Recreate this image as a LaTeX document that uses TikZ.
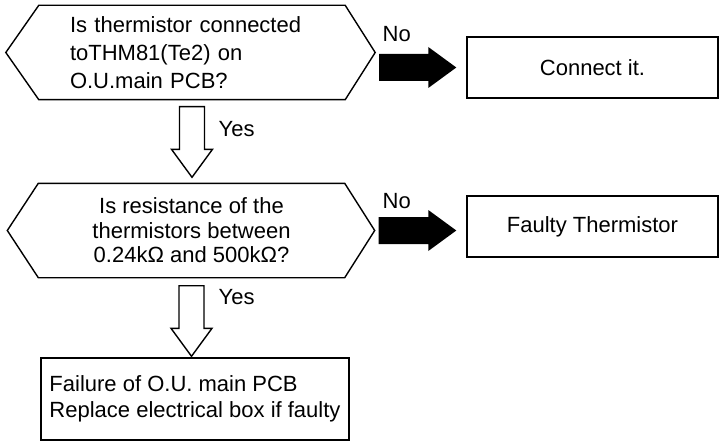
\documentclass[tikz,border=0pt]{standalone}
\usepackage{fontspec}
\setmainfont{Liberation Sans}
\usetikzlibrary{calc}

\begin{document}
\begin{tikzpicture}[x=1pt,y=-1pt,line width=1.4pt,
  box/.style={draw, minimum width=251pt, minimum height=61pt, font=\fontsize{22}{26}\selectfont},
  hexa/.style={minimum width=305pt, minimum height=93pt, inner sep=0pt},
  lbl/.style={anchor=base west, inner sep=0pt, font=\fontsize{22}{26}\selectfont},
  fat/.style={fill=black, to path={let \p1=(\tikztostart), \p2=(\tikztotarget) in
    (\x1+4pt,\y1+13.5pt) -- (\x2-38pt,\y1+13.5pt) -- (\x2-38pt,\y1+20.5pt) -- (\x2-10pt,\y1)
    -- (\x2-38pt,\y1-20.5pt) -- (\x2-38pt,\y1-13.5pt) -- (\x1+4pt,\y1-13.5pt) -- cycle}},
  hollow/.style={fill=white, line join=miter, to path={let \p1=(\tikztostart), \p2=(\tikztotarget) in
    (\x1-12.5pt,\y1) -- (\x1-12.5pt,\y2+28pt) -- (\x1-20.5pt,\y2+28pt) -- (\x1,\y2)
    -- (\x1+20.5pt,\y2+28pt) -- (\x1+12.5pt,\y2+28pt) -- (\x1+12.5pt,\y1) -- cycle}}]

\useasboundingbox (0,0) rectangle (725,441);

\node[hexa, text width=244pt, align=left, font=\fontsize{22}{28.3}\selectfont] (Q1) at (192,52.5)
  {Is thermistor connected\\toTHM81(Te2) on\\O.U.main PCB?};
\draw (Q1.north west) -- (Q1.north east) -- ([xshift=30pt]Q1.east) coordinate (Q1tip)
  -- (Q1.south east) -- (Q1.south west) -- ([xshift=-33pt]Q1.west) -- cycle;

\node[hexa, align=center, font=\fontsize{22}{24.5}\selectfont] (Q2) at (191.5,230.5)
  {Is resistance of the\\thermistors between\\0.24kΩ and 500kΩ?};
\draw (Q2.north west) -- (Q2.north east) -- ([xshift=30pt]Q2.east) coordinate (Q2tip)
  -- (Q2.south east) -- (Q2.south west) -- ([xshift=-31pt]Q2.west) -- cycle;

\node[box] (C) at (592.5,67.5) {Connect it.};
\node[box] (F) at (592.5,226.5) {Faulty Thermistor};
\node[box, minimum width=308pt, minimum height=82pt, align=left] (R) at (195,399)
  {Failure of O.U. main PCB\\Replace electrical box if faulty};

\fill[fat] (Q1tip |- C.west) to (C.west);
\fill[fat] (Q2tip) to (F.west |- Q2tip);

\draw[hollow] ([yshift=-7pt]Q1.south) to ([yshift=6pt]Q2.north);
\draw[hollow] ([yshift=-8pt]Q2.south) to ([yshift=1pt]R.north);

\node[lbl] (N1) at (382,42) {No};
\node[lbl] (N2) at (382,208) {No};
\node[lbl] (Y1) at (218,136) {Yes};
\node[lbl] (Y2) at (218,304) {Yes};

\end{tikzpicture}
\end{document}
